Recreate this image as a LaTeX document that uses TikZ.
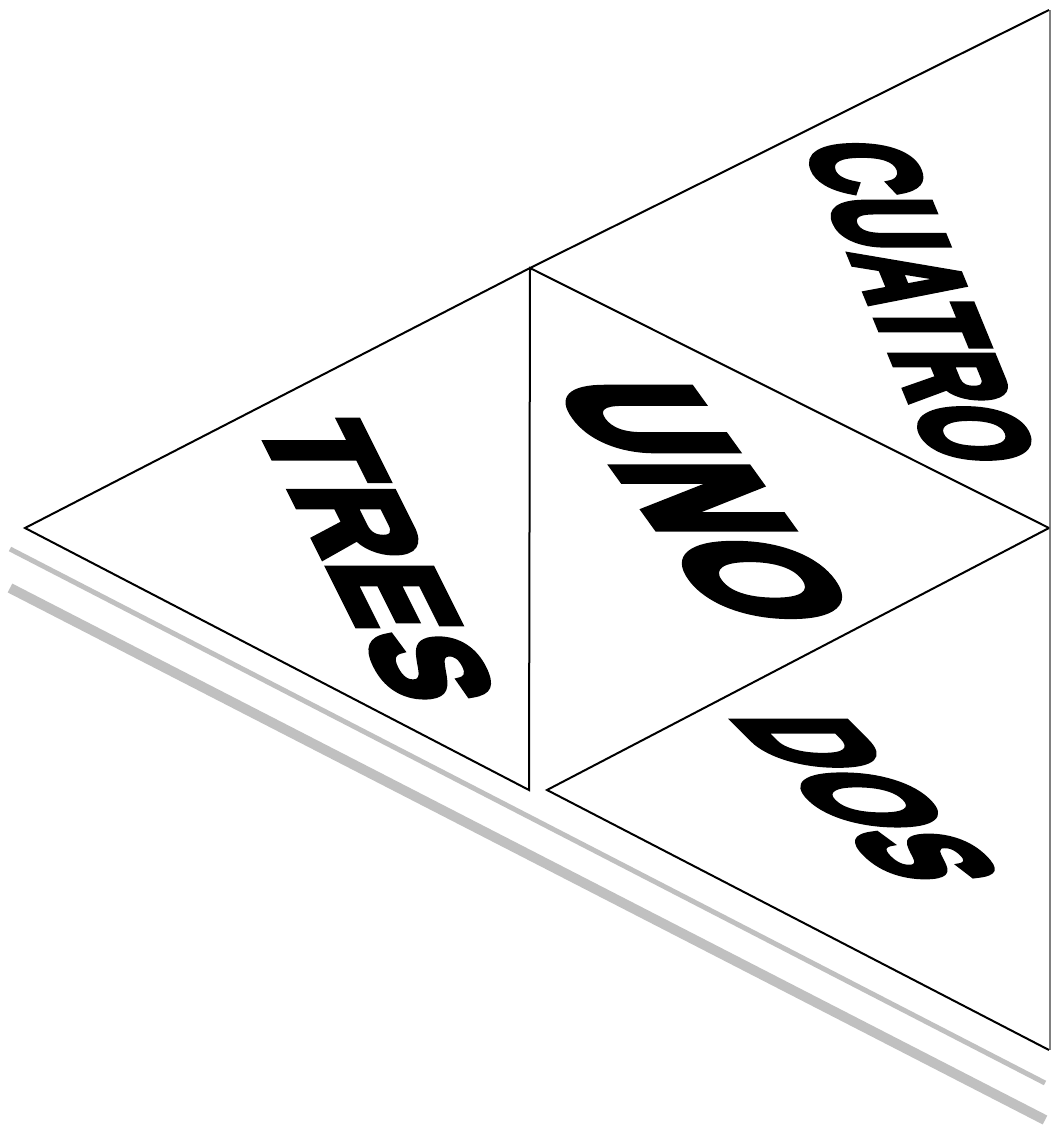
\documentclass[tikz,border=0pt]{standalone}
\usepackage{fontspec}
\newfontfamily\wafont{Liberation Sans Bold}[FakeBold=6,LetterSpace=4]
\definecolor{shade}{RGB}{192,192,192}
\definecolor{rim}{RGB}{128,128,128}
\begin{document}
\begin{tikzpicture}[x=1pt,y=-1pt,
  edge/.style={line width=2pt, line join=miter},
  shadowthin/.style={draw=shade, line width=5pt},
  shadowthick/.style={draw=shade, line width=10pt},
  rimline/.style={draw=rim, line width=1.5pt},
  word/.style={font=\wafont\fontsize{100}{100}\selectfont, inner sep=0pt, transform shape, text depth=0pt}]
\useasboundingbox (0,0) rectangle (1051,1127);
% vertices
\coordinate (TR) at (1049,10);
\coordinate (M) at (530,268);
\coordinate (L) at (25,528);
\coordinate (B) at (529,790);
\coordinate (R) at (1049,528);
\coordinate (D) at (547,790);
\coordinate (BR) at (1049,1050);
% shadow lines
\coordinate (g1a) at (10,549);
\coordinate (g1b) at (1045,1083);
\coordinate (g2a) at (10,588);
\coordinate (g2b) at (1045,1120);
\coordinate (rt) at (1050,10);
\coordinate (rb) at (1050,1050);
\draw[shadowthin] (g1a) -- (g1b);
\draw[shadowthick] (g2a) -- (g2b);
\draw[rimline] (rt) -- (rb);
% triangles
\draw[edge] (TR) -- (M) -- (L) -- (B) -- (M) -- (R);
\draw[edge] (R) -- (D) -- (BR);
% words
\begin{scope}[shift={(706,501)}]
\node[word, cm={0.747,-1.037,1.91,0,(0,0)}] (uno) at (0,0) {UNO};
\end{scope}
\begin{scope}[shift={(377,560)}]
\node[word, cm={0.504,-1.008,1.47,0,(0,0)}] (tres) at (0,0) {TRES};
\end{scope}
\begin{scope}[shift={(868,798)}]
\node[word, cm={0.73,-0.73,1.60,0,(0,0)}] (dos) at (0,0) {DOS};
\end{scope}
\begin{scope}[shift={(921,302)}]
\node[word, cm={0.298,-0.726,1.45,0,(0,0)}] (cuatro) at (0,0) {CUATRO};
\end{scope}
\end{tikzpicture}
\end{document}
